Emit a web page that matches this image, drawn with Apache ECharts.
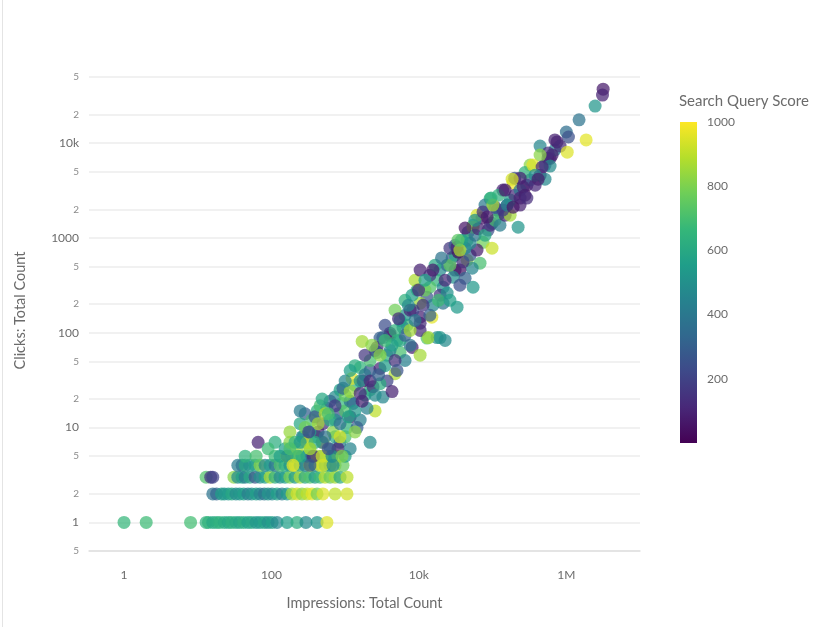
<!DOCTYPE html>
<html>
<head>
<meta charset="utf-8">
<script src="https://cdn.jsdelivr.net/npm/echarts@6/dist/echarts.min.js"></script>
<style>
  html, body { margin: 0; padding: 0; background: #fff; }
  body { position: relative; }
  #main { width: 820px; height: 627px; }
  #frame { position: absolute; left: 2px; top: 0; width: 1px; height: 627px; background: #e4e4e4; }
</style>
</head>
<body>
<div id="main"></div>
<div id="frame"></div>
<script>
// [impressions, clicks, search query score]
var row1 = [[1,1,660],[2,1,680],[8,1,690],[13,1,640],[14,1,650],[16,1,600],[18,1,620],[20,1,640],[23,1,610],[26,1,590],
  [29,1,630],[33,1,600],[37,1,580],[42,1,620],[48,1,560],[54,1,600],[62,1,520],[70,1,540],[80,1,580],[90,1,500],
  [102,1,560],[119,1,470],[163,1,560],[222,1,620],[294,1,480],[416,1,520],[566,1,950]];
var row2 = [[16,2,380],[18,2,330],[21,2,560],[23,2,520],[26,2,540],[29,2,600],[33,2,480],[37,2,520],[42,2,560],[48,2,420],
  [54,2,500],[62,2,560],[70,2,440],[80,2,380],[90,2,520],[102,2,460],[119,2,560],[139,2,420],[163,2,540],[190,2,850],
  [222,2,930],[260,2,820],[304,2,900],[355,2,960],[416,2,780],[500,2,950],[730,2,900],[1060,2,930]];
var row3 = [[13,3,720],[15,3,150],[16,3,200],[31,3,820],[35,3,480],[40,3,560],[44,3,420],[51,3,600],[60,3,260],[70,3,500],
  [82,3,560],[96,3,880],[112,3,620],[131,3,480],[153,3,560],[178,3,800],[209,3,540],[245,3,880],[286,3,600],[333,3,720],
  [390,3,540],[457,3,680],[534,3,900],[624,3,760],[730,3,860],[852,3,600],[1060,3,900]];
var row4 = [[35,4,420],[40,4,380],[44,4,600],[51,4,500],[60,4,560],[70,4,820],[82,4,460],[96,4,540],[112,4,380],[131,4,720],
  [153,4,620],[178,4,520],[209,4,900],[245,4,580],[286,4,420],[333,4,880],[390,4,470],[457,4,940],[534,4,620],[624,4,520],
  [730,4,860],[935,4,760]];
var row5 = [[44,5,640],[62,5,700],[112,5,680],[131,5,560],[163,5,820],[190,5,720],[222,5,900],[260,5,600],[304,5,500],[355,5,300],
  [416,5,860],[487,5,600],[566,5,780],[665,5,420],[800,5,900],[1000,5,560]];
var lowSparse = [[66,7,100],[112,7,620],[90,6,680],[153,6,560],[178,7,820],[222,6,860],[260,8,440],[304,7,700],[333,6,820],
  [416,8,560],[500,7,900],[624,6,460],[730,8,600],[852,7,380],[2180,7,480]];
var lowerBand = [[286,14,300],[416,15,620],[566,16,520],[800,14,250],[1170,13,80],[1600,12,430],
  [245,11,600],[355,12,700],[500,11,130],[730,12,480],[1060,10,650],[1450,10,300],
  [178,9,840],[270,8,500],[430,9,90],[685,9,820],[1000,8,700],
  [209,7,660],[304,7,950],[487,7,330],[800,6,100],[1170,6,450],
  [163,5,500],[230,5,640],[370,5,120],[487,5,940],[665,5,520],[907,5,800],
  [196,4,960],[333,4,280],[500,4,940],[685,4,480],
  [2550,15,900],[1980,16,440],[730,21,480],[907,18,660],[1280,18,260],[3250,21,460],
  [245,15,420],[286,10,780],[333,9,560],[390,13,260],[457,17,700],[534,14,880],[624,19,340],[624,12,620],
  [852,25,560],[1000,15,720],[1170,19,390],[1360,28,640],[1860,22,560],[1360,9,820],[390,7,620],[534,8,380],
  [245,7,540],[178,6,700],[333,6,860],[590,6,240],[852,8,940],
  [730,17,180],[1000,22,760],[1360,15,540],[1700,19,90],[2180,25,640],[852,11,380],[590,14,700],[430,11,860],
  [1110,13,560],[320,9,200],[487,20,600]];
var middleBand = [[1700,81,860],[4060,94,80],[6920,120,680],[10400,126,120],[12900,88,720],[17700,89,500],[2970,88,300],
  [2710,62,470],[3700,58,640],[5560,62,700],[8100,70,90],[10400,58,860],[6500,51,430],
  [1600,43,650],[2180,40,280],[2970,42,100],[4750,37,880],[3700,31,200],
  [1240,33,960],[1750,31,60],[2390,27,130],[2970,29,620],[4330,24,90],
  [935,26,320],[1170,24,840],[1600,23,110],
  [4060,99,70],[6100,114,460],[10400,106,120],[13500,89,860],[19400,89,520],[22700,83,480],[2710,70,110],
  [3250,89,310],[5060,83,660],[7600,74,380],
  [1600,31,520],[2180,51,700],[2550,65,240],[3480,45,560],[4060,65,440],[4750,51,140],[5560,83,600],[6500,94,300],
  [7600,106,860],[1860,36,400],[1360,45,620],[2180,31,120],[2970,58,820],[4330,74,560],[5060,40,260],[3480,83,680],
  [2550,22,480],[1170,40,560],[1000,31,460],
  [2840,36,300],[1860,58,160],[2300,74,820],[3480,120,240],[4750,106,640]];
var upperMidBand = [[28200,615,260],[45200,582,840],[67600,542,700],[52800,480,450],[31000,458,100],[36000,458,50],
  [19400,458,480],[24200,516,350],
  [17700,358,640],[29100,385,500],[42400,375,320],[54400,302,530],[21300,302,470],[14100,302,720],[9460,282,660],
  [12900,237,260],[19400,249,150],[24200,262,500],
  [33000,186,540],[10400,205,850],[15500,195,470],[21300,205,380],[6500,153,500],[10400,146,90],[15000,146,960],[8350,173,220],
  [6500,220,640],[7600,173,100],[8100,249,560],[8880,135,400],[11400,195,150],[12100,282,780],[14100,405,160],
  [16600,516,600],[18500,220,680],[22700,358,110],[26400,516,750],[31000,658,600],[36000,317,240],[26400,220,560],
  [39800,560,140],[49500,658,280],[14100,153,300],[8880,358,880],[10400,458,90],[5560,135,560],[4750,173,780],
  [5300,141,130],[7200,195,480],[9900,282,120],[12100,358,560],[15500,458,80],[20300,615,380],[26400,780,160]];
var upperBand = [[92500,2600,620],[138000,3200,100],[190000,3790,980],[292000,3600,70],[236000,2220,90],[158000,2220,300],
  [108000,2110,180],[72000,1620,60],[61600,1740,940],[87000,1210,250],[222000,1300,520],[46600,1150,300],[54400,1360,680],
  [45200,947,660],[74200,900,780],[98300,780,920],[61600,745,80],[34000,710,40],[31000,835,280],[42400,780,460],
  [98300,1430,280],[54400,1300,860],[33000,800,100],[49500,880,470],[126000,1830,480],[115000,1970,250],
  [57800,1070,380],[64000,1250,100],[79000,1070,600],[92500,1360,130],[108000,1540,700],[126000,1360,420],
  [148000,1740,90],[173000,2510,560],[200000,2820,120],[173000,1740,860],[236000,3200,420],[275000,2820,60],
  [323000,4080,280],[378000,3600,110],[441000,4590,70],[515000,5860,300],[603000,6900,90],[700000,8470,440],
  [323000,5860,820],[38000,947,560],[36000,745,880],[79000,2220,400],[120000,2820,640],[138000,1970,180],
  [34000,947,740],[42400,1270,60],[57800,1540,500],[74200,1880,150],[101000,2220,860],[200000,4270,250],
  [275000,4900,640],[565000,6900,120],[700000,10800,90]];
var topBand = [[3160000,37000,70],[3100000,32100,100],[2460000,24600,520],[1490000,17600,380],[1000000,13100,360],
  [1070000,11600,250],[1860000,10800,960],[750000,10300,90],[824000,9300,120],[441000,9300,460],[1030000,8030,950],
  [643000,7470,80],[565000,7850,130],[441000,7470,820],[603000,5720,480],[352000,5860,960],[470000,5590,110],
  [378000,4590,500],[236000,4270,90],[184000,4170,940],[515000,4170,470],[415000,4170,80],[260000,3440,90],
  [148000,3200,80],[95300,2630,640],[236000,2630,90],[292000,2630,130],[158000,2220,450],[190000,2110,60],[84300,1660,70]];

var xTickLabels = {1: '1', 100: '100', 10000: '10k', 1000000: '1M'};
var yMinorTicks = [2, 5, 20, 50, 200, 500, 2000, 5000, 20000, 50000];
var scoreTicks = [200, 400, 600, 800, 1000];
var viridis = ['#440154','#482878','#3e4989','#31688e','#26828e','#1f9e89','#35b779','#6ece58','#b5de2b','#fde725'];

var points = [].concat(row1, row2, row3, row4, row5, lowSparse, lowerBand, middleBand, upperMidBand, upperBand, topBand);

var FONT = 'Lato';
var myChart = echarts.init(document.getElementById('main'));

var option = {
    animation: false,
    backgroundColor: '#fff',
    textStyle: { fontFamily: FONT },
    title: {
        text: 'Search Query Score',
        left: 674,
        top: 89,
        textStyle: { fontFamily: FONT, fontSize: 15, fontWeight: 'normal', color: '#6b6b6b' }
    },
    grid: [
        { left: 89, right: 180, top: 70, bottom: 76 },
        // colorbar
        { left: 680, top: 122, width: 17, height: 321 }
    ],
    xAxis: [
        {
            type: 'log',
            logBase: 100,
            min: 0.335,
            max: 10000000,
            name: 'Impressions: Total Count',
            nameLocation: 'middle',
            nameGap: 45,
            nameTextStyle: { fontFamily: FONT, fontSize: 14.5, color: '#6b6b6b' },
            axisLine: { show: true, lineStyle: { color: '#e0e0e0', width: 1.5 } },
            axisTick: { show: false },
            splitLine: { show: false },
            axisLabel: {
                margin: 18,
                fontSize: 12,
                color: '#6b6b6b',
                showMinLabel: true,
                showMaxLabel: true,
                formatter: function (v) {
                    var k = Math.round(v);
                    if (Math.abs(v - k) > 1e-6 * Math.max(1, k)) return '';
                    return xTickLabels[k] || '';
                }
            }
        },
        { gridIndex: 1, type: 'category', data: [''], show: false }
    ],
    yAxis: [
        {
            type: 'log',
            min: 0.5,
            max: 59000,
            name: 'Clicks: Total Count',
            nameLocation: 'middle',
            nameGap: 61,
            nameTextStyle: { fontFamily: FONT, fontSize: 14.5, color: '#6b6b6b' },
            axisLine: { show: false },
            axisTick: { show: false },
            splitLine: { show: true, showMaxLine: false, lineStyle: { color: '#ececec', width: 1.5 } },
            axisLabel: {
                margin: 10,
                showMinLabel: true,
                showMaxLabel: true,
                formatter: function (v) {
                    if (Math.abs(v - 0.5) < 1e-6) return '{mi|5}';
                    if (v > 50001) return '';
                    var l = Math.log10(v), e = Math.round(l);
                    if (Math.abs(l - e) > 1e-6) return '';
                    var n = Math.pow(10, e);
                    return '{ma|' + (n >= 10000 ? n / 1000 + 'k' : n) + '}';
                },
                rich: {
                    ma: { fontFamily: FONT, fontSize: 12, color: '#6b6b6b' },
                    mi: { fontFamily: FONT, fontSize: 10, color: '#8a8a8a' }
                }
            }
        },
        {
            gridIndex: 1,
            type: 'value',
            min: 0,
            max: 1000,
            interval: 200,
            position: 'right',
            axisLine: { show: false },
            axisTick: { show: false },
            splitLine: { show: false },
            axisLabel: {
                margin: 10,
                fontSize: 12,
                color: '#6b6b6b',
                formatter: function (v) { return scoreTicks.indexOf(v) >= 0 ? String(v) : ''; }
            }
        }
    ],
    visualMap: {
        type: 'continuous',
        show: false,
        min: 0,
        max: 1000,
        dimension: 2,
        seriesIndex: 0,
        inRange: { color: viridis }
    },
    series: [
        {
            type: 'scatter',
            z: 3,
            symbolSize: 13,
            data: points,
            itemStyle: { opacity: 0.72 },
            silent: true
        },
        {
            // minor gridlines (2 and 5) on the log axis
            type: 'line',
            z: 1,
            data: [],
            markLine: {
                z: 1,
                silent: true,
                symbol: ['none', 'none'],
                lineStyle: { color: '#ececec', width: 1.5, type: 'solid' },
                label: {
                    position: 'start',
                    distance: 10,
                    fontFamily: FONT,
                    fontSize: 10,
                    color: '#8a8a8a',
                    formatter: function (p) { return String(p.value).charAt(0); }
                },
                emphasis: { disabled: true },
                data: yMinorTicks.map(function (v) { return { yAxis: v }; })
            }
        },
        {
            type: 'bar',
            xAxisIndex: 1,
            yAxisIndex: 1,
            data: [1000],
            barWidth: 17,
            silent: true,
            itemStyle: {
                color: new echarts.graphic.LinearGradient(0, 0, 0, 1, viridis.slice().reverse().map(function (c, i, arr) {
                    return { offset: i / (arr.length - 1), color: c };
                }))
            }
        }
    ]
};
myChart.setOption(option);
</script>
</body>
</html>
